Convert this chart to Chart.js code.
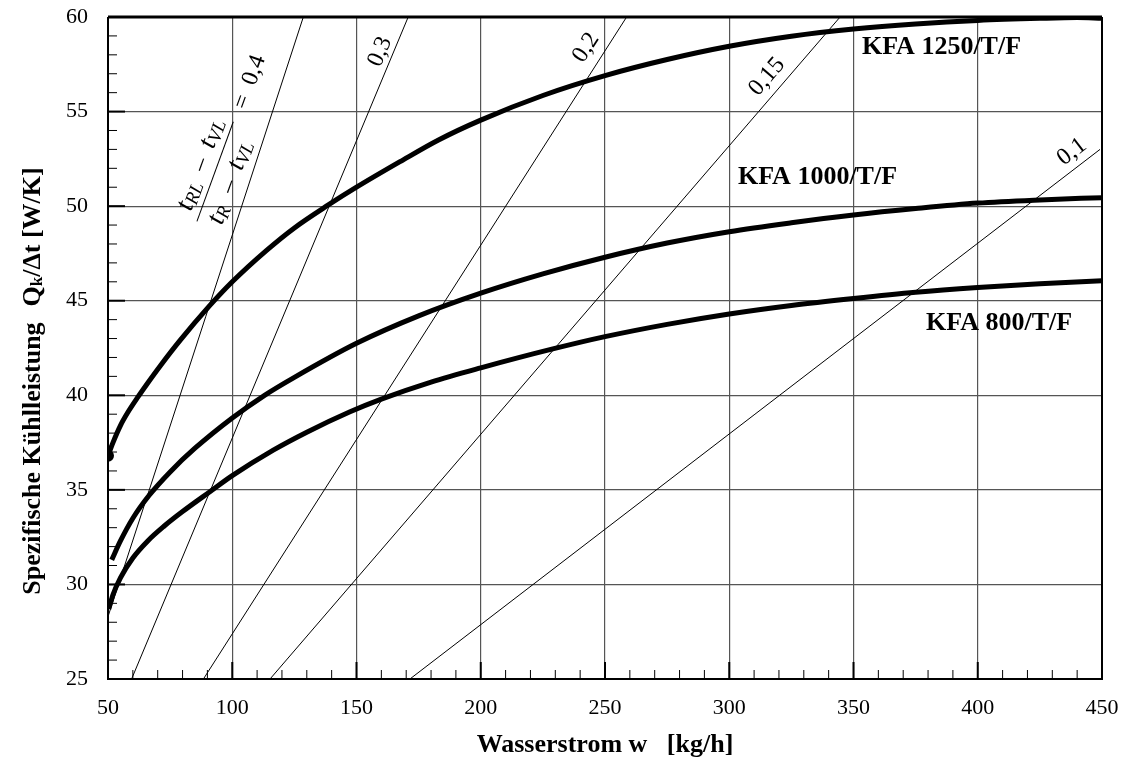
<!DOCTYPE html>
<html>
<head>
<meta charset="utf-8">
<script src="https://cdn.jsdelivr.net/npm/chart.js@4.4.1/dist/chart.umd.min.js"></script>
<style>
  html, body { margin: 0; padding: 0; background: #fff; }
  #wrap { width: 1128px; height: 769px; }
</style>
</head>
<body>
<div id="wrap"><canvas id="kfaChart" width="1128" height="769"></canvas></div>
<script>
// Wasserstrom w [kg/h] -> spez. Kuehlleistung Qk/dt [W/K]
const kfa1250W = [50, 52, 55, 58, 62, 66, 71, 79, 91, 100, 113.7, 125, 138.5, 150, 167.5, 183, 200, 225, 250, 275, 300, 325, 350, 375, 400, 425, 440, 450];
const kfa1250Q = [36.8, 37.5, 38.4, 39.1, 39.9, 40.65, 41.55, 42.9, 44.75, 46.0, 47.65, 48.85, 50.05, 51.0, 52.35, 53.5, 54.55, 55.85, 56.9, 57.75, 58.45, 58.98, 59.36, 59.63, 59.82, 59.93, 59.97, 59.93];

const kfa1000W = [51.5, 55, 60, 66.5, 75, 85, 100, 113, 125, 150, 175, 200, 225, 250, 275, 300, 325, 350, 375, 400, 425, 450];
const kfa1000Q = [31.3, 32.3, 33.5, 34.7, 35.95, 37.2, 38.8, 40.0, 40.95, 42.75, 44.2, 45.4, 46.42, 47.3, 48.05, 48.65, 49.12, 49.53, 49.87, 50.16, 50.33, 50.45];

const kfa800W = [50.3, 52, 55, 60, 66, 72.3, 80, 91, 100, 116.5, 130, 147.4, 160, 180, 200, 229, 250, 275, 300, 325, 350, 375, 400, 425, 450];
const kfa800Q = [28.7, 29.45, 30.35, 31.4, 32.3, 33.05, 33.85, 34.9, 35.75, 37.1, 38.05, 39.13, 39.8, 40.7, 41.45, 42.45, 43.1, 43.75, 44.3, 44.75, 45.12, 45.45, 45.7, 45.9, 46.05];

const curveNames = ['KFA 1250/T/F', 'KFA 1000/T/F', 'KFA 800/T/F'];
const curveLabelW = [353.4, 303.5, 379.2];
const curveLabelQ = [58.38, 51.5, 43.83];

// ratio lines (tRL - tVL) / (tR - tVL)
const ratioNames = ['0,4', '0,3', '0,2', '0,15', '0,1'];
const ratioW = [[50, 128.6], [59.5, 170.8], [88.4, 258.7], [115.2, 344.6], [171.5, 449.2]];
const ratioQ = [[28.3, 60], [25, 60], [25, 60], [25, 60], [25, 53]];
const ratioLabelW = [93.1, 159.5, 242.4, 315.2, 437.9];
const ratioLabelQ = [51.83, 58.16, 58.38, 56.84, 52.87];

const wMin = 50, wMax = 450, wStep = 50, wMinor = 10;
const qMin = 25, qMax = 60, qStep = 5, qMinor = 1;

const serif = "'Liberation Serif', 'Times New Roman', serif";

const toPoints = (xs, ys) => xs.map((x, i) => ({ x: x, y: ys[i] }));

const curveSet = (name, xs, ys) => ({
  label: name,
  data: toPoints(xs, ys),
  showLine: true,
  borderColor: '#000',
  backgroundColor: '#000',
  borderWidth: 5,
  cubicInterpolationMode: 'monotone',
  pointRadius: 0
});

const datasets = [];
ratioNames.forEach((r, i) => {
  datasets.push({
    label: r,
    data: toPoints(ratioW[i], ratioQ[i]),
    showLine: true,
    borderColor: '#000',
    borderWidth: 1,
    pointRadius: 0
  });
});
const c1250 = curveSet(curveNames[0], kfa1250W, kfa1250Q);
c1250.pointRadius = ctx => ctx.dataIndex === 0 ? 3.5 : 0;
datasets.push(c1250);
datasets.push(curveSet(curveNames[1], kfa1000W, kfa1000Q));
datasets.push(curveSet(curveNames[2], kfa800W, kfa800Q));

// draw a row of text pieces centred on (cx, cy)
function drawPieces(ctx, pieces, cx, cy) {
  let total = 0;
  pieces.forEach(p => {
    ctx.font = p.font;
    p.w = p.gap || ctx.measureText(p.t).width;
    total += p.w;
  });
  let x = cx - total / 2;
  pieces.forEach(p => {
    if (!p.gap) {
      ctx.font = p.font;
      ctx.fillText(p.t, x, cy + (p.dy || 0));
    }
    x += p.w;
  });
}

const decorations = {
  id: 'decorations',
  afterDatasetsDraw(chart) {
    const { ctx, chartArea: a, scales: { x, y } } = chart;
    ctx.save();
    ctx.strokeStyle = '#000';
    ctx.fillStyle = '#000';

    // inward ticks
    for (let v = qMin; v <= qMax; v += qMinor) {
      const py = y.getPixelForValue(v);
      const major = v % qStep === 0;
      ctx.lineWidth = major ? 2 : 1;
      ctx.beginPath();
      ctx.moveTo(a.left, py);
      ctx.lineTo(a.left + (major ? 17 : 9), py);
      ctx.stroke();
    }
    for (let v = wMin; v <= wMax; v += wMinor) {
      const px = x.getPixelForValue(v);
      const major = v % wStep === 0;
      ctx.lineWidth = major ? 2 : 1;
      ctx.beginPath();
      ctx.moveTo(px, a.bottom);
      ctx.lineTo(px, a.bottom - (major ? 17 : 9));
      ctx.stroke();
    }

    // frame
    ctx.lineWidth = 2;
    ctx.beginPath();
    ctx.moveTo(a.left, a.top);
    ctx.lineTo(a.left, a.bottom);
    ctx.lineTo(a.right, a.bottom);
    ctx.lineTo(a.right, a.top);
    ctx.stroke();
    ctx.lineWidth = 3;
    ctx.beginPath();
    ctx.moveTo(a.left, a.top);
    ctx.lineTo(a.right, a.top);
    ctx.stroke();

    // curve names
    ctx.font = 'bold 26px ' + serif;
    ctx.textAlign = 'left';
    ctx.textBaseline = 'middle';
    curveNames.forEach((n, i) => {
      ctx.fillText(n, x.getPixelForValue(curveLabelW[i]), y.getPixelForValue(curveLabelQ[i]));
    });

    // ratio values written along their lines
    ratioNames.forEach((r, i) => {
      const dx = x.getPixelForValue(ratioW[i][1]) - x.getPixelForValue(ratioW[i][0]);
      const dy = y.getPixelForValue(ratioQ[i][1]) - y.getPixelForValue(ratioQ[i][0]);
      const ang = Math.atan2(dy, dx);
      ctx.save();
      ctx.translate(x.getPixelForValue(ratioLabelW[i]), y.getPixelForValue(ratioLabelQ[i]));
      ctx.rotate(ang + (i === 0 ? 0.035 : 0));
      ctx.textBaseline = 'middle';
      if (i === 0) {
        // fraction (tRL - tVL) / (tR - tVL) = 0,4
        ctx.lineWidth = 1;
        ctx.beginPath();
        ctx.moveTo(-53, 0);
        ctx.lineTo(53, 0);
        ctx.stroke();
        const it = 'italic 27px ' + serif;
        const sub = 'italic 19px ' + serif;
        const rm = '25px ' + serif;
        drawPieces(ctx, [
          { t: 't', font: it }, { t: 'RL', font: sub, dy: 5 },
          { gap: 12 }, { t: '\u2013', font: rm }, { gap: 12 },
          { t: 't', font: it }, { t: 'VL', font: sub, dy: 5 }
        ], 1.7, -16);
        drawPieces(ctx, [
          { t: 't', font: it }, { t: 'R', font: sub, dy: 5 },
          { gap: 14 }, { t: '\u2013', font: rm }, { gap: 12 },
          { t: 't', font: it }, { t: 'VL', font: sub, dy: 5 }
        ], -4.9, 18);
        ctx.font = '24px ' + serif;
        ctx.textAlign = 'left';
        ctx.fillText('=  ' + r, 68, 2);
      } else {
        ctx.font = '24px ' + serif;
        ctx.textAlign = 'center';
        ctx.fillText(r, 0, 0);
      }
      ctx.restore();
    });

    // y axis title with subscript k
    ctx.save();
    ctx.translate(33, 381);
    ctx.rotate(-Math.PI / 2);
    ctx.textAlign = 'left';
    ctx.textBaseline = 'middle';
    drawPieces(ctx, [
      { t: 'Spezifische K\u00fchlleistung', font: 'bold 26px ' + serif },
      { gap: 16 },
      { t: 'Q', font: 'bold 26px ' + serif },
      { t: 'k', font: 'bold 17px ' + serif, dy: 5 },
      { t: '/\u0394t [W/K]', font: 'bold 26px ' + serif }
    ], 0, 0);
    ctx.restore();

    ctx.restore();
  }
};

new Chart(document.getElementById('kfaChart'), {
  type: 'scatter',
  data: { datasets: datasets },
  options: {
    responsive: false,
    animation: false,
    devicePixelRatio: 1,
    layout: { padding: { top: 17, right: 26, left: 0, bottom: 0 } },
    plugins: {
      legend: { display: false },
      tooltip: { enabled: false }
    },
    scales: {
      x: {
        type: 'linear',
        min: wMin,
        max: wMax,
        afterFit: s => { s.height = 90; s.paddingLeft = 0; s.paddingRight = 0; },
        border: { display: false },
        grid: { color: '#555', lineWidth: 1.2, drawTicks: false },
        ticks: {
          stepSize: wStep,
          padding: 16,
          color: '#000',
          font: { family: serif, size: 22 }
        },
        title: {
          display: true,
          text: 'Wasserstrom w   [kg/h]',
          color: '#000',
          font: { family: serif, size: 26, weight: 'bold' },
          padding: { top: 0, bottom: 8 }
        }
      },
      y: {
        type: 'linear',
        min: qMin,
        max: qMax,
        afterFit: s => { s.width = 108; s.paddingTop = 0; s.paddingBottom = 0; },
        border: { display: false },
        grid: { color: '#555', lineWidth: 1.2, drawTicks: false },
        ticks: {
          stepSize: qStep,
          padding: 20,
          color: '#000',
          font: { family: serif, size: 22 }
        }
      }
    }
  },
  plugins: [decorations]
});
</script>
</body>
</html>
